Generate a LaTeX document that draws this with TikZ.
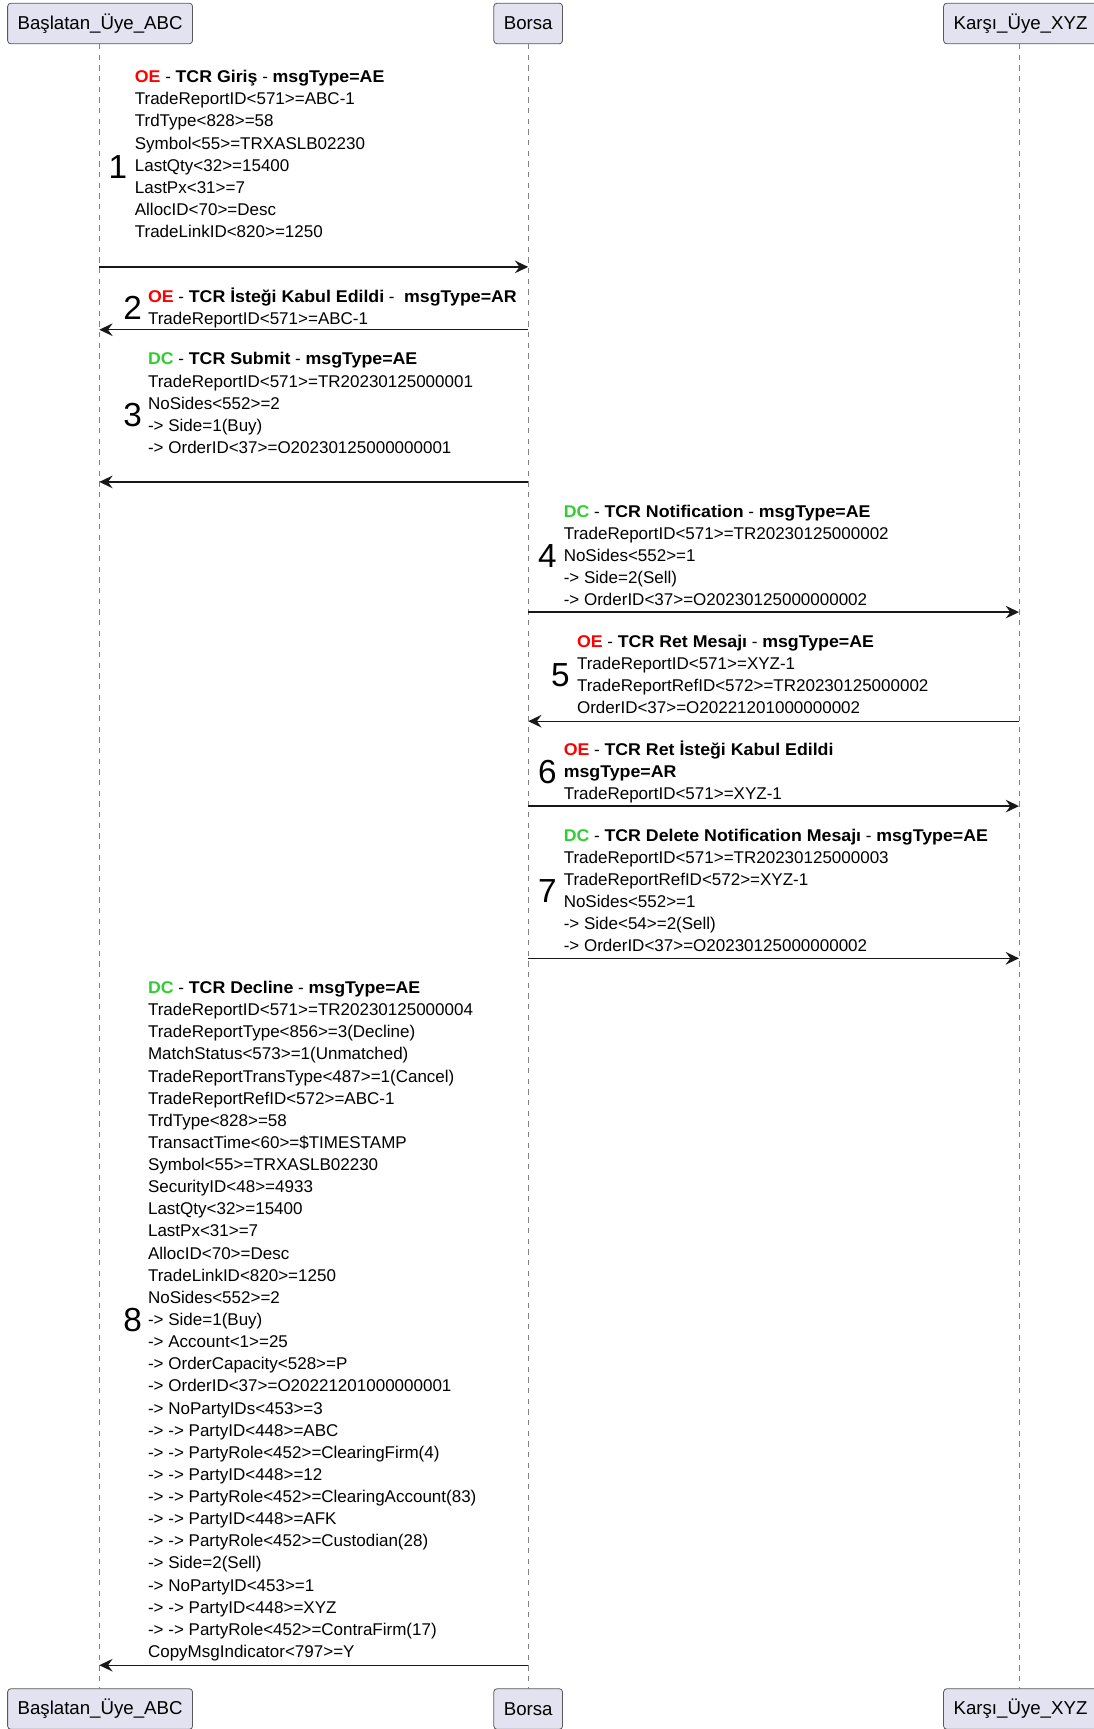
\documentclass[tikz,border=0pt]{standalone}
\usepackage{fontspec}
\setmainfont[BoldFeatures={FakeStretch=1.045}]{Liberation Sans}
\usetikzlibrary{arrows.meta}
\definecolor{oered}{RGB}{255,0,0}
\definecolor{dcgreen}{RGB}{50,205,50}
\definecolor{boxfill}{RGB}{226,226,240}
\definecolor{boxdraw}{RGB}{90,90,90}
\definecolor{lifegray}{RGB}{130,130,130}
\definecolor{arrowc}{RGB}{24,24,24}
\newcommand{\oetag}{\textcolor{oered}{\textbf{OE}}}
\newcommand{\dctag}{\textcolor{dcgreen}{\textbf{DC}}}
\newcommand{\msglines}[1]{\begin{tabular}[t]{@{}l@{}}#1\end{tabular}}
\begin{document}
\begin{tikzpicture}[x=0.75pt,y=-0.75pt,
  participant/.style={draw=boxdraw, fill=boxfill, line width=0.6pt, rounded corners=2.5pt,
    minimum height=30.5pt, inner xsep=7.5pt, inner ysep=0pt,
    font=\fontsize{14pt}{16pt}\selectfont},
  lifeline/.style={draw=lifegray, line width=0.6pt, dash pattern=on 4pt off 4pt},
  msgtext/.style={anchor=base west, inner sep=0pt, font=\fontsize{12.75pt}{16.6pt}\selectfont},
  seqnum/.style={anchor=east, inner sep=0pt, font=\fontsize{25pt}{30pt}\selectfont},
  msgarrow/.style={draw=arrowc, line width=1.05pt, -{Stealth[length=10pt,width=9.5pt,inset=3.5pt]}}
]
\useasboundingbox (0,0) rectangle (1094,1729);
\def\xA{99.3}
\def\xB{528.2}
\def\xC{1019}
% participants
\node[participant] (abcTop) at (\xA+0.8,23.5) {Başlatan\_Üye\_ABC};
\node[participant] (borsaTop) at (\xB,23.5) {Borsa};
\node[participant] (xyzTop) at (\xC+1.5,23.5) {Karşı\_Üye\_XYZ};
\node[participant] (abcBot) at (\xA+0.8,1709) {Başlatan\_Üye\_ABC};
\node[participant] (borsaBot) at (\xB,1709) {Borsa};
\node[participant] (xyzBot) at (\xC+1.5,1709) {Karşı\_Üye\_XYZ};
% lifelines
\coordinate (abcL1) at (\xA,44); \coordinate (abcL2) at (\xA,1689);
\coordinate (borsaL1) at (\xB,44); \coordinate (borsaL2) at (\xB,1689);
\coordinate (xyzL1) at (\xC,44); \coordinate (xyzL2) at (\xC,1689);
\draw[lifeline] (abcL1) -- (abcL2);
\draw[lifeline] (borsaL1) -- (borsaL2);
\draw[lifeline] (xyzL1) -- (xyzL2);
% arrow end points
\coordinate (m1s) at (\xA,266.9);  \coordinate (m1e) at (\xB,266.9);
\coordinate (m2s) at (\xB,329.7);  \coordinate (m2e) at (\xA,329.7);
\coordinate (m3s) at (\xB,481.9);  \coordinate (m3e) at (\xA,481.9);
\coordinate (m4s) at (\xB,612.1);  \coordinate (m4e) at (\xC,612.1);
\coordinate (m5s) at (\xC,721.2);  \coordinate (m5e) at (\xB,721.2);
\coordinate (m6s) at (\xB,806.1);  \coordinate (m6e) at (\xC,806.1);
\coordinate (m7s) at (\xB,958.3);  \coordinate (m7e) at (\xC,958.3);
\coordinate (m8s) at (\xB,1665.2); \coordinate (m8e) at (\xA,1665.2);
% message 1
\node[msgtext] (t1) at (134.6,82.6) {\msglines{%
\oetag{} - \textbf{TCR Giriş} - \textbf{msgType=AE}\\
TradeReportID<571>=ABC-1\\
TrdType<828>=58\\
Symbol<55>=TRXASLB02230\\
LastQty<32>=15400\\
LastPx<31>=7\\
AllocID<70>=Desc\\
TradeLinkID<820>=1250}};
\node[seqnum] (n1) at (127.5,166.6) {1};
\draw[msgarrow] (m1s) -- (m1e);
% message 2
\node[msgtext] (t2) at (147.8,302) {\msglines{%
\oetag{} - \textbf{TCR İsteği Kabul Edildi} -\ \ \textbf{msgType=AR}\\
TradeReportID<571>=ABC-1}};
\node[seqnum] (n2) at (142.3,307.6) {2};
\draw[msgarrow] (m2s) -- (m2e);
% message 3
\node[msgtext] (t3) at (147.8,364.9) {\msglines{%
\dctag{} - \textbf{TCR Submit} - \textbf{msgType=AE}\\
TradeReportID<571>=TR20230125000001\\
NoSides<552>=2\\
-> Side=1(Buy)\\
-> OrderID<37>=O20230125000000001}};
\node[seqnum] (n3) at (142.3,414.7) {3};
\draw[msgarrow] (m3s) -- (m3e);
% message 4
\node[msgtext] (t4) at (563.5,517.1) {\msglines{%
\dctag{} - \textbf{TCR Notification} - \textbf{msgType=AE}\\
TradeReportID<571>=TR20230125000002\\
NoSides<552>=1\\
-> Side=2(Sell)\\
-> OrderID<37>=O20230125000000002}};
\node[seqnum] (n4) at (557,555.9) {4};
\draw[msgarrow] (m4s) -- (m4e);
% message 5
\node[msgtext] (t5) at (576.8,647.2) {\msglines{%
\oetag{} - \textbf{TCR Ret Mesajı} - \textbf{msgType=AE}\\
TradeReportID<571>=XYZ-1\\
TradeReportRefID<572>=TR20230125000002\\
OrderID<37>=O20221201000000002}};
\node[seqnum] (n5) at (570,674.9) {5};
\draw[msgarrow] (m5s) -- (m5e);
% message 6
\node[msgtext] (t6) at (563.5,755.3) {\msglines{%
\oetag{} - \textbf{TCR Ret İsteği Kabul Edildi}\\
\textbf{msgType=AR}\\
TradeReportID<571>=XYZ-1}};
\node[seqnum] (n6) at (557,771.9) {6};
\draw[msgarrow] (m6s) -- (m6e);
% message 7
\node[msgtext] (t7) at (563.5,841.3) {\msglines{%
\dctag{} - \textbf{TCR Delete Notification Mesajı} - \textbf{msgType=AE}\\
TradeReportID<571>=TR20230125000003\\
TradeReportRefID<572>=XYZ-1\\
NoSides<552>=1\\
-> Side<54>=2(Sell)\\
-> OrderID<37>=O20230125000000002}};
\node[seqnum] (n7) at (557,891.1) {7};
\draw[msgarrow] (m7s) -- (m7e);
% message 8
\node[msgtext] (t8) at (147.8,993.5) {\msglines{%
\dctag{} - \textbf{TCR Decline} - \textbf{msgType=AE}\\
TradeReportID<571>=TR20230125000004\\
TradeReportType<856>=3(Decline)\\
MatchStatus<573>=1(Unmatched)\\
TradeReportTransType<487>=1(Cancel)\\
TradeReportRefID<572>=ABC-1\\
TrdType<828>=58\\
TransactTime<60>=\$TIMESTAMP\\
Symbol<55>=TRXASLB02230\\
SecurityID<48>=4933\\
LastQty<32>=15400\\
LastPx<31>=7\\
AllocID<70>=Desc\\
TradeLinkID<820>=1250\\
NoSides<552>=2\\
-> Side=1(Buy)\\
-> Account<1>=25\\
-> OrderCapacity<528>=P\\
-> OrderID<37>=O20221201000000001\\
-> NoPartyIDs<453>=3\\
-> -> PartyID<448>=ABC\\
-> -> PartyRole<452>=ClearingFirm(4)\\
-> -> PartyID<448>=12\\
-> -> PartyRole<452>=ClearingAccount(83)\\
-> -> PartyID<448>=AFK\\
-> -> PartyRole<452>=Custodian(28)\\
-> Side=2(Sell)\\
-> NoPartyID<453>=1\\
-> -> PartyID<448>=XYZ\\
-> -> PartyRole<452>=ContraFirm(17)\\
CopyMsgIndicator<797>=Y}};
\node[seqnum] (n8) at (142.3,1320) {8};
\draw[msgarrow] (m8s) -- (m8e);
\end{tikzpicture}
\end{document}
